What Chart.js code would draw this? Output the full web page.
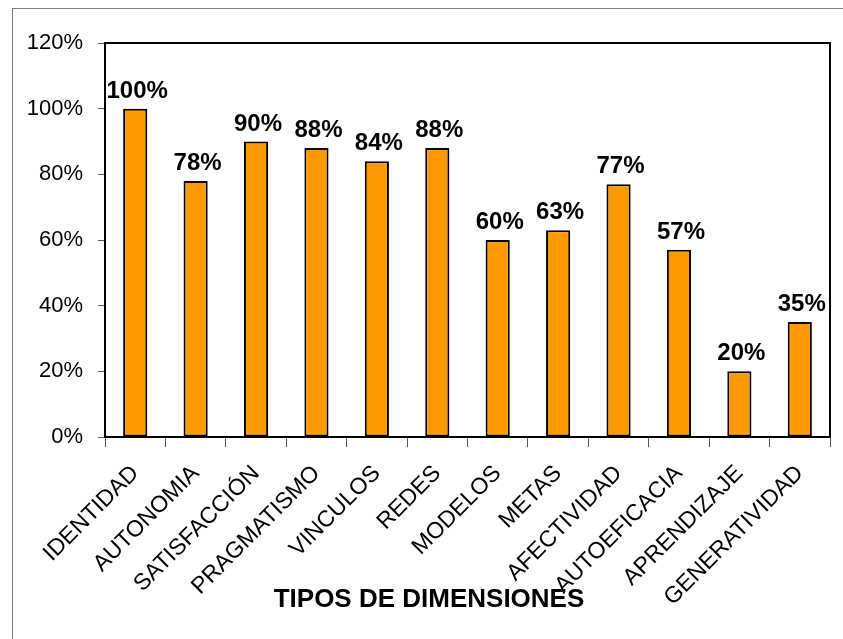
<!DOCTYPE html>
<html lang="es">
<head>
    <meta charset="UTF-8">
    <title>Tipos de dimensiones</title>
    <script src="https://cdn.jsdelivr.net/npm/chart.js@4"></script>
    <style>
        html, body {
            margin: 0;
            padding: 0;
            background: #ffffff;
        }
        .wrap {
            position: relative;
            width: 843px;
            height: 639px;
            overflow: hidden;
        }
        .frame {
            position: absolute;
            left: 12px;
            top: 8px;
            width: 900px;
            height: 700px;
            border: 1px solid #7a7a7a;
            pointer-events: none;
        }
        #chart {
            position: absolute;
            left: 0;
            top: 0;
        }
    </style>
</head>
<body>
<div class="wrap">
    <div class="frame"></div>
    <canvas id="chart" width="843" height="639"></canvas>
</div>

<script>
    // data
    const categories = ['IDENTIDAD', 'AUTONOMIA', 'SATISFACCIÓN', 'PRAGMATISMO', 'VINCULOS', 'REDES',
        'MODELOS', 'METAS', 'AFECTIVIDAD', 'AUTOEFICACIA', 'APRENDIZAJE', 'GENERATIVIDAD'];
    const values = [100, 78, 90, 88, 84, 88, 60, 63, 77, 57, 20, 35];
    const yTickValues = [0, 20, 40, 60, 80, 100, 120];
    const axisTitle = 'TIPOS DE DIMENSIONES';

    const FONT = '"Liberation Sans", Arial, sans-serif';

    // value labels above each bar, black box round the plot, axis title
    const barLabels = {
        id: 'barLabels',
        afterDatasetsDraw(chart) {
            const ctx = chart.ctx;
            const meta = chart.getDatasetMeta(0);
            ctx.save();
            ctx.font = 'bold 24px ' + FONT;
            ctx.fillStyle = '#000';
            ctx.textAlign = 'center';
            ctx.textBaseline = 'alphabetic';
            meta.data.forEach((bar, i) => {
                ctx.fillText(values[i] + '%', bar.x + 2, bar.y - 11);
            });
            ctx.restore();
        },
        afterDraw(chart) {
            const a = chart.chartArea;
            const ctx = chart.ctx;
            ctx.save();
            ctx.strokeStyle = '#000';
            ctx.lineWidth = 2;
            ctx.strokeRect(a.left, a.top, a.right - a.left, a.bottom - a.top);

            // title sits centred on the whole frame, overlapping the rotated labels
            ctx.font = 'bold 26px ' + FONT;
            ctx.fillStyle = '#000';
            ctx.textAlign = 'center';
            ctx.textBaseline = 'alphabetic';
            ctx.fillText(axisTitle, (chart.width + 15) / 2, a.bottom + 170);
            ctx.restore();
        }
    };

    new Chart(document.getElementById('chart'), {
        type: 'bar',
        data: {
            labels: categories,
            datasets: [{
                data: values,
                backgroundColor: '#ff9900',
                borderColor: '#000000',
                borderWidth: 2,
                borderSkipped: false,
                barPercentage: 0.4,
                categoryPercentage: 1.0
            }]
        },
        options: {
            responsive: false,
            animation: false,
            layout: {
                padding: { left: 12, right: 13, top: 43, bottom: 0 }
            },
            plugins: {
                legend: { display: false },
                tooltip: { enabled: false },
                title: { display: false }
            },
            scales: {
                x: {
                    offset: true,
                    grid: {
                        display: true,
                        offset: true,
                        drawOnChartArea: false,
                        drawTicks: true,
                        tickLength: 10,
                        color: '#555'
                    },
                    border: { display: true, color: '#000', width: 2 },
                    ticks: {
                        autoSkip: false,
                        maxRotation: 45,
                        minRotation: 45,
                        padding: 13,
                        color: '#000',
                        font: { family: FONT, size: 23 }
                    },
                    afterFit(scale) {
                        scale.height = 202;
                    }
                },
                y: {
                    min: 0,
                    max: 120,
                    afterBuildTicks(scale) {
                        scale.ticks = yTickValues.map(v => ({ value: v }));
                    },
                    grid: {
                        display: true,
                        drawOnChartArea: false,
                        drawTicks: true,
                        tickLength: 7,
                        color: '#555'
                    },
                    border: { display: true, color: '#000', width: 2 },
                    ticks: {
                        padding: 15,
                        color: '#000',
                        font: { family: FONT, size: 22 },
                        callback: v => v + '%'
                    },
                    afterFit(scale) {
                        scale.width = 93;
                    }
                }
            }
        },
        plugins: [barLabels]
    });
</script>
</body>
</html>
